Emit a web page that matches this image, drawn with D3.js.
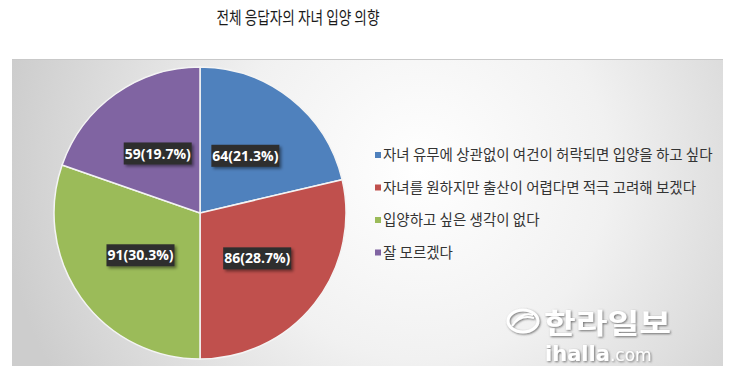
<!DOCTYPE html>
<html>
<head>
<meta charset="utf-8">
<script src="https://cdn.jsdelivr.net/npm/d3@7"></script>
<style>
  body { margin: 0; background: #fff; }
  svg { display: block; }
</style>
</head>
<body>
<div id="chart"></div>
<script>
// data
var categories = [
    "자녀 유무에 상관없이 여건이 허락되면 입양을 하고 싶다",
    "자녀를 원하지만 출산이 어렵다면 적극 고려해 보겠다",
    "입양하고 싶은 생각이 없다",
    "잘 모르겠다"
];
var values = [64, 86, 91, 59];
var colors = ["#4f81bd", "#c0504d", "#9bbb59", "#8064a2"];
var title = "전체 응답자의 자녀 입양 의향";

var width = 730, height = 378;
var cx = 200, cy = 213, radius = 146;

var svg = d3.select("#chart").append("svg")
    .attr("width", width)
    .attr("height", height);

var defs = svg.append("defs");
var grad = defs.append("radialGradient")
    .attr("id", "bg")
    .attr("gradientUnits", "userSpaceOnUse")
    .attr("cx", 420).attr("cy", 170).attr("r", 420);
grad.append("stop").attr("offset", "0%").attr("stop-color", "#ffffff");
grad.append("stop").attr("offset", "45%").attr("stop-color", "#f1f1f1");
grad.append("stop").attr("offset", "100%").attr("stop-color", "#cdcdcd");

var shadow = defs.append("filter").attr("id", "shadow")
    .attr("x", "-20%").attr("y", "-30%").attr("width", "150%").attr("height", "170%");
shadow.append("feDropShadow")
    .attr("dx", 2).attr("dy", 2).attr("stdDeviation", 1.5)
    .attr("flood-color", "#000").attr("flood-opacity", 0.45);

var soft = defs.append("filter").attr("id", "soft")
    .attr("x", "-10%").attr("y", "-30%").attr("width", "120%").attr("height", "160%");
soft.append("feDropShadow")
    .attr("dx", 1).attr("dy", 1).attr("stdDeviation", 1.2)
    .attr("flood-color", "#555").attr("flood-opacity", 0.8);

// title
svg.append("text")
    .attr("x", 298).attr("y", 24)
    .attr("text-anchor", "middle")
    .attr("font-family", "'Noto Sans CJK KR', sans-serif")
    .attr("font-size", 17.5)
    .attr("textLength", 163)
    .attr("lengthAdjust", "spacingAndGlyphs")
    .attr("fill", "#1a1a1a")
    .text(title);

// plot panel
svg.append("rect")
    .attr("x", 12).attr("y", 59)
    .attr("width", 711).attr("height", 307)
    .attr("fill", "url(#bg)");
svg.append("line")
    .attr("x1", 12).attr("x2", 723).attr("y1", 59.5).attr("y2", 59.5)
    .attr("stroke", "#c9c9c9").attr("stroke-width", 1);

// pie
var pie = d3.pie().value(function (d) { return d; }).sort(null);
var arc = d3.arc().innerRadius(0).outerRadius(radius);
var total = d3.sum(values);

var g = svg.append("g")
    .attr("transform", "translate(" + cx + "," + cy + ")");

g.selectAll("path")
    .data(pie(values))
    .enter()
    .append("path")
    .attr("d", arc)
    .attr("fill", function (d, i) { return colors[i]; })
    .attr("stroke", "#f4f4f4")
    .attr("stroke-width", 1.5);

var labels = g.selectAll("g.lbl")
    .data(pie(values))
    .enter()
    .append("g")
    .attr("class", "lbl")
    .attr("transform", function (d) {
        var c = arc.centroid(d);
        return "translate(" + c[0] + "," + c[1] + ")";
    });

labels.append("rect")
    .attr("x", -34).attr("y", -11)
    .attr("width", 68).attr("height", 22)
    .attr("fill", "#2e2e2e")
    .attr("filter", "url(#shadow)");

labels.append("text")
    .attr("text-anchor", "middle")
    .attr("dy", "0.36em")
    .attr("font-family", "'Open Sans', sans-serif")
    .attr("font-weight", "bold")
    .attr("font-size", 14)
    .attr("fill", "#fff")
    .text(function (d) {
        return d.data + "(" + (d.data / total * 100).toFixed(1) + "%)";
    });

// legend
var legend = svg.append("g")
    .attr("transform", "translate(375,155)");

var item = legend.selectAll("g")
    .data(categories)
    .enter()
    .append("g")
    .attr("transform", function (d, i) { return "translate(0," + (i * 32.5) + ")"; });

item.append("rect")
    .attr("x", 0).attr("y", -3)
    .attr("width", 6).attr("height", 6)
    .attr("fill", function (d, i) { return colors[i]; });

item.append("text")
    .attr("x", 8).attr("dy", "0.35em")
    .attr("font-family", "'Noto Sans CJK KR', sans-serif")
    .attr("font-size", 14.5)
    .attr("fill", "#333")
    .text(function (d) { return d; });

// watermark
var wm = svg.append("g").attr("filter", "url(#soft)");
wm.append("ellipse")
    .attr("cx", 523).attr("cy", 321).attr("rx", 15).attr("ry", 11)
    .attr("fill", "none").attr("stroke", "#fff").attr("stroke-width", 3);
wm.append("path")
    .attr("d", "M512,326 Q520,314 534,318 M514,323 Q522,312 533,315")
    .attr("fill", "none").attr("stroke", "#fff").attr("stroke-width", 2);
wm.append("text")
    .attr("x", 544).attr("y", 334)
    .attr("font-family", "'Noto Sans CJK KR', sans-serif")
    .attr("font-weight", "bold")
    .attr("font-size", 28)
    .attr("textLength", 127)
    .attr("lengthAdjust", "spacingAndGlyphs")
    .attr("fill", "#fff")
    .text("한라일보");
wm.append("text")
    .attr("x", 545).attr("y", 361)
    .attr("font-family", "'DejaVu Sans', sans-serif")
    .attr("font-weight", "bold")
    .attr("font-size", 21)
    .attr("fill", "#fff")
    .text("ihalla")
    .append("tspan")
    .attr("font-weight", "normal")
    .attr("font-size", 17)
    .text(".com");
</script>
</body>
</html>
